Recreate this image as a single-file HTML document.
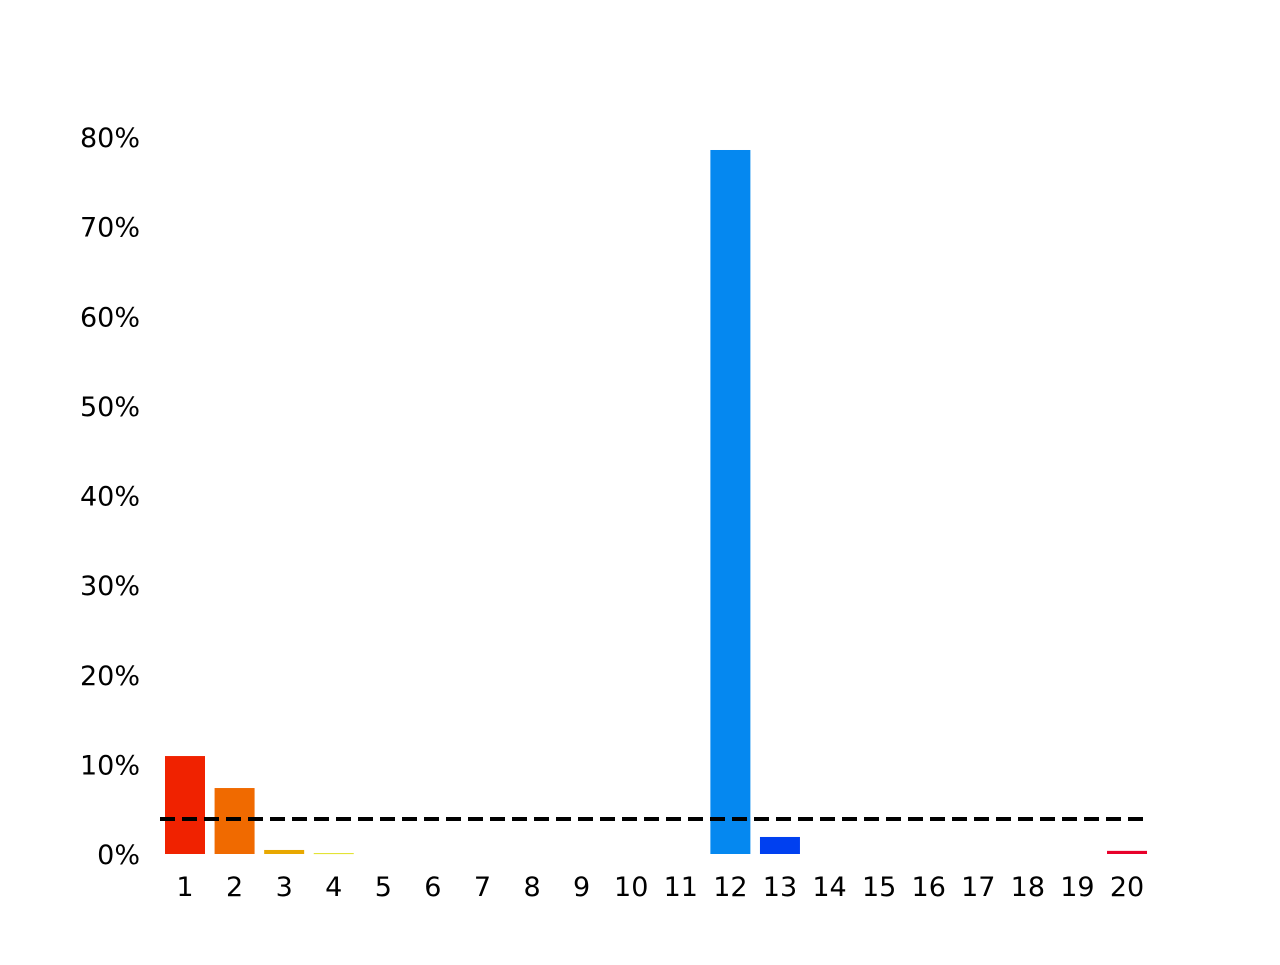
<!DOCTYPE html>
<html><head><meta charset="utf-8"><style>
html,body{margin:0;padding:0;background:#fff;}
svg text{font-family:"DejaVu Sans","Liberation Sans",sans-serif;font-size:27px;fill:#000;}
</style></head><body>
<svg id="chart" width="1280" height="960" xmlns="http://www.w3.org/2000/svg"></svg>
<script>
const categories = ["1","2","3","4","5","6","7","8","9","10","11","12","13","14","15","16","17","18","19","20"];
const values = [10.93,7.36,0.45,0.1,0,0,0,0,0,0,0,78.55,1.9,0,0,0,0,0,0,0.35];
const colors = ["#f02200","#f06a00","#e8a800","#e0e020","#fff","#fff","#fff","#fff","#fff","#fff","#fff","#0588f0","#0040f0","#fff","#fff","#fff","#fff","#fff","#fff","#e8002a"];
const yTicks = [0,10,20,30,40,50,60,70,80];
const refLine = 3.9;
const svg = document.getElementById('chart');
const NS = 'http://www.w3.org/2000/svg';
const y0 = 854, pxPer = 8.9625;
const yScale = v => y0 - v * pxPer;
const xCenter = i => 185 + i * 49.58;
const bw = 40;
function mk(t, a){const e=document.createElementNS(NS,t);for(const k in a)e.setAttribute(k,a[k]);svg.appendChild(e);return e;}
yTicks.forEach(t=>{
  const e=mk('text',{x:140,y:yScale(t)+10,'text-anchor':'end'});
  e.textContent=t+'%';
  
  
});
categories.forEach((c,i)=>{
  if(values[i]>0){
    const h=values[i]*pxPer;
    const r=mk('rect',{x:xCenter(i)-bw/2,y:y0-h,width:bw,height:Math.max(h,1),fill:colors[i]});
    
    
  }
  const t=mk('text',{x:xCenter(i),y:896,'text-anchor':'middle'});
  t.textContent=c;
  
  
});
const l=mk('line',{x1:160,x2:1147,y1:yScale(refLine),y2:yScale(refLine),stroke:'#000','stroke-width':4,'stroke-dasharray':'15 7'});


</script>
</body></html>
